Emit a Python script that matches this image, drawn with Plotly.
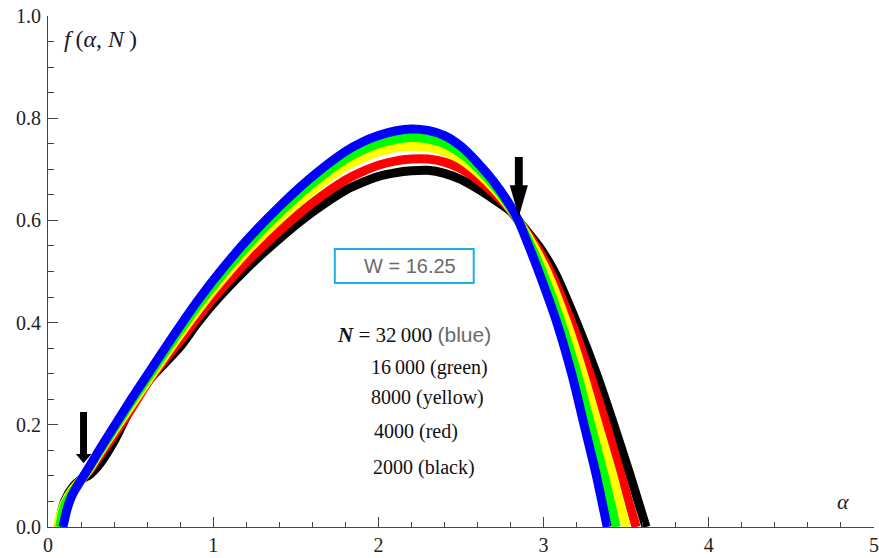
import plotly.graph_objects as go

# ---- data ----
series_names = ["2000 (black)", "4000 (red)", "8000 (yellow)", "16000 (green)", "32000 (blue)"]
series_colors = ["#000000", "#ff0000", "#ffff00", "#00ff00", "#0000ff"]

x_black = [0.06, 0.1, 0.15, 0.2, 0.25, 0.3, 0.4, 0.5, 0.6, 0.7, 0.8, 0.9, 1.0, 1.2, 1.4, 1.6, 1.8, 1.9, 2.0, 2.1, 2.2, 2.3, 2.4, 2.5, 2.6, 2.7, 2.8, 2.847, 2.97, 3.065, 3.20, 3.32, 3.425, 3.525, 3.62]
y_black = [0, 0.05, 0.078, 0.093, 0.102, 0.118, 0.168, 0.232, 0.283, 0.318, 0.353, 0.397, 0.437, 0.505, 0.564, 0.616, 0.659, 0.674, 0.686, 0.693, 0.697, 0.698, 0.692, 0.68, 0.662, 0.641, 0.618, 0.6, 0.55, 0.5, 0.4, 0.3, 0.2, 0.1, 0]

x_red = [0.065, 0.1, 0.15, 0.2, 0.25, 0.3, 0.4, 0.5, 0.6, 0.7, 0.8, 0.9, 1.0, 1.2, 1.4, 1.6, 1.8, 1.9, 2.0, 2.1, 2.2, 2.3, 2.4, 2.5, 2.6, 2.7, 2.8, 2.847, 2.955, 3.04, 3.17, 3.28, 3.38, 3.47, 3.56]
y_red = [0, 0.045, 0.074, 0.092, 0.11, 0.133, 0.18, 0.229, 0.281, 0.324, 0.364, 0.407, 0.447, 0.518, 0.579, 0.634, 0.679, 0.695, 0.708, 0.716, 0.72, 0.72, 0.714, 0.701, 0.68, 0.653, 0.62, 0.6, 0.55, 0.5, 0.4, 0.3, 0.2, 0.1, 0]

x_yellow = [0.055, 0.1, 0.15, 0.2, 0.25, 0.3, 0.4, 0.5, 0.6, 0.7, 0.8, 0.9, 1.0, 1.2, 1.4, 1.6, 1.8, 1.9, 2.0, 2.1, 2.2, 2.3, 2.4, 2.5, 2.6, 2.7, 2.8, 2.847, 2.94, 3.02, 3.14, 3.24, 3.33, 3.42, 3.50]
y_yellow = [0, 0.047, 0.074, 0.092, 0.113, 0.139, 0.188, 0.236, 0.284, 0.331, 0.377, 0.421, 0.463, 0.538, 0.602, 0.658, 0.705, 0.721, 0.734, 0.742, 0.745, 0.743, 0.735, 0.719, 0.694, 0.662, 0.622, 0.6, 0.55, 0.5, 0.4, 0.3, 0.2, 0.1, 0]

x_green = [0.07, 0.1, 0.15, 0.2, 0.25, 0.3, 0.4, 0.5, 0.6, 0.7, 0.8, 0.9, 1.0, 1.2, 1.4, 1.6, 1.8, 1.9, 2.0, 2.1, 2.2, 2.3, 2.4, 2.5, 2.6, 2.7, 2.8, 2.847, 2.924, 2.992, 3.107, 3.203, 3.286, 3.367, 3.44]
y_green = [0, 0.042, 0.07, 0.092, 0.116, 0.142, 0.192, 0.242, 0.29, 0.338, 0.385, 0.43, 0.472, 0.548, 0.614, 0.672, 0.72, 0.737, 0.75, 0.758, 0.762, 0.759, 0.75, 0.731, 0.703, 0.668, 0.625, 0.6, 0.55, 0.5, 0.4, 0.3, 0.2, 0.1, 0]

x_blue = [0.09, 0.12, 0.15, 0.2, 0.25, 0.3, 0.4, 0.5, 0.6, 0.7, 0.8, 0.9, 1.0, 1.2, 1.4, 1.6, 1.8, 1.9, 2.0, 2.1, 2.2, 2.3, 2.4, 2.5, 2.6, 2.7, 2.8, 2.847, 2.91, 2.97, 3.08, 3.17, 3.245, 3.32, 3.385]
y_blue = [0, 0.04, 0.065, 0.092, 0.118, 0.145, 0.197, 0.248, 0.297, 0.346, 0.394, 0.44, 0.483, 0.56, 0.627, 0.686, 0.735, 0.753, 0.766, 0.775, 0.779, 0.776, 0.766, 0.745, 0.713, 0.675, 0.628, 0.6, 0.55, 0.5, 0.4, 0.3, 0.2, 0.1, 0]

x_ticks = [0, 1, 2, 3, 4, 5]
y_ticks = [0.0, 0.2, 0.4, 0.6, 0.8, 1.0]

legend_lines = ["<b><i>N</i></b> = 32\u2009000 <span style='font-family:Liberation Sans;color:#6a6a6a'>(blue)</span>",
                "16\u2009000 (green)", "8000 (yellow)", "4000 (red)", "2000 (black)"]
box_label = "W = 16.25"

xs = [x_black, x_red, x_yellow, x_green, x_blue]
ys = [y_black, y_red, y_yellow, y_green, y_blue]

fig = go.Figure()
for name, col, xv, yv in zip(series_names, series_colors, xs, ys):
    fig.add_trace(go.Scatter(x=xv, y=yv, mode="lines", name=name,
                             line=dict(color=col, width=9, shape="spline", smoothing=0.7),
                             showlegend=False, hoverinfo="skip"))

serif = "Liberation Serif"
axis_col = "#444444"
tickfont = dict(family=serif, size=20, color="#222222")

fig.update_layout(
    width=879, height=558,
    margin=dict(l=48, r=5, t=16, b=31, autoexpand=False),
    paper_bgcolor="white", plot_bgcolor="white",
    font=dict(family=serif, size=20, color="#222222"),
    xaxis=dict(range=[0, 5], tickvals=x_ticks, ticktext=[str(v) for v in x_ticks],
               ticks="inside", ticklen=10, tickwidth=1, tickcolor=axis_col, tickfont=tickfont,
               showline=True, linecolor=axis_col, linewidth=1.2, showgrid=False, zeroline=False,
               minor=dict(dtick=0.2, ticks="inside", ticklen=5, tickcolor=axis_col, showgrid=False),
               ticklabelstandoff=0, automargin=False),
    yaxis=dict(range=[0, 1], tickvals=y_ticks, ticktext=["%.1f" % v for v in y_ticks],
               ticks="inside", ticklen=10, tickwidth=1, tickcolor=axis_col, tickfont=tickfont,
               showline=True, linecolor=axis_col, linewidth=1.2, showgrid=False, zeroline=False,
               minor=dict(dtick=0.05, ticks="inside", ticklen=6, tickcolor=axis_col, showgrid=False),
               ticklabelstandoff=2, automargin=False),
)

# axis labels
fig.add_annotation(x=0.085, y=0.955, xref="x", yref="y", xanchor="left", yanchor="middle",
                   text="<i>f</i>\u2009(<i>α</i>, <i>N</i>\u2009)", showarrow=False,
                   font=dict(family=serif, size=24, color="#1a1a2e"))
fig.add_annotation(x=4.81, y=0.049, xref="x", yref="y", xanchor="center", yanchor="middle",
                   text="<i>α</i>", showarrow=False,
                   font=dict(family=serif, size=22, color="#1a1a2e"))

# W box
fig.add_shape(type="rect", xref="x", yref="y", x0=1.736, x1=2.577, y0=0.4775, y1=0.544,
              line=dict(color="#1aaee6", width=2), fillcolor="white")
fig.add_annotation(x=2.19, y=0.511, xref="x", yref="y", text=box_label, showarrow=False,
                   font=dict(family="Liberation Sans", size=20, color="#6a6a6a"))

# N legend text
leg_pos = [(1.736, 0.376), (1.942, 0.313), (1.942, 0.2525), (1.96, 0.186), (1.954, 0.117)]
leg_sizes = [21, 20, 20, 20, 20]
for txt, (lx, ly), fs in zip(legend_lines, leg_pos, leg_sizes):
    fig.add_annotation(x=lx, y=ly, xref="x", yref="y", xanchor="left", yanchor="middle",
                       text=txt, showarrow=False, font=dict(family=serif, size=fs, color="#111111"))

# arrows (black, pointing down)
def arrow_path(xl, xr, ytop, yhs, hxl, hxr, tx, ty):
    return (f"M {xl},{ytop} L {xr},{ytop} L {xr},{yhs} L {hxr},{yhs} "
            f"L {tx},{ty} L {hxl},{yhs} L {xl},{yhs} Z")

fig.add_shape(type="path", xref="x", yref="y",
              path=arrow_path(0.194, 0.236, 0.225, 0.143, 0.169, 0.262, 0.215, 0.125),
              fillcolor="black", line=dict(color="black", width=0))
fig.add_shape(type="path", xref="x", yref="y",
              path=arrow_path(2.826, 2.874, 0.724, 0.669, 2.795, 2.905, 2.850, 0.607),
              fillcolor="black", line=dict(color="black", width=0))

fig.write_html("out.html", config={"displayModeBar": False},
               post_script="document.body.style.margin='0px';document.body.style.padding='0px';")
